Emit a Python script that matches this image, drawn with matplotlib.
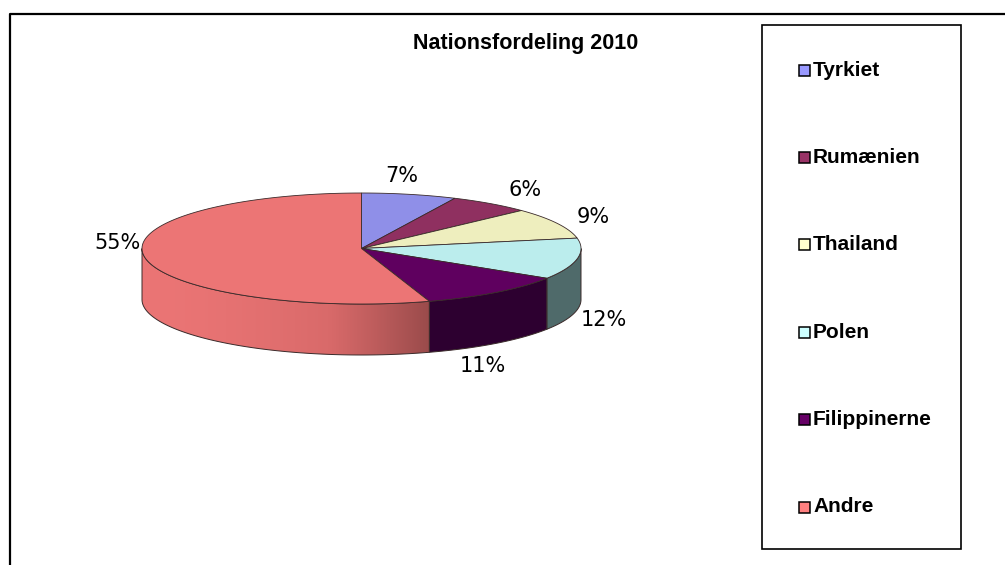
import numpy as np
import matplotlib
matplotlib.use('Agg')
import matplotlib.pyplot as plt
from matplotlib.patches import Polygon, Rectangle
from matplotlib.lines import Line2D
from matplotlib.colors import LinearSegmentedColormap

# ---------------- data ----------------
title = 'Nationsfordeling 2010'
categories = ['Tyrkiet', 'Rumænien', 'Thailand', 'Polen', 'Filippinerne', 'Andre']
shares = [7, 6, 9, 12, 11, 55]
legend_colors = ['#9999FF', '#993366', '#FFFFCC', '#CCFFFF', '#660066', '#FF8080']
top_colors = ['#8f8fe8', '#8f3060', '#eeeebe', '#bbeded', '#5f005f', '#ec7575']
side_colors = ['#6a6aad', '#6a2347', '#b0b08c', '#4f6a6a', '#2d0030', '#e87272']

# ---------------- layout ----------------
W, H = 1005, 565
fig = plt.figure(figsize=(W / 100, H / 100), dpi=100)
ax = fig.add_axes([0, 0, 1, 1])

cx, cy, rx, ry, depth = 361.5, 248.5, 219.5, 55.5, 51
edge = '#3a2a2a'
label_nudge = [(-15, -2), (15, 0), (7, 1), (-6, 58), (-33, 60), (5, -17)]


def ell(theta_deg, dy=0.0):
    t = np.radians(theta_deg)
    return cx + rx * np.sin(t), cy - ry * np.cos(t) + dy


vals = np.array(shares, dtype=float)
bounds = np.concatenate([[0], np.cumsum(vals) / vals.sum() * 360])

# side walls (front half only)
for i in range(len(vals)):
    a0, a1 = max(bounds[i], 90), min(bounds[i + 1], 270)
    if a1 <= a0:
        continue
    th = np.linspace(a0, a1, 200)
    xt, yt = ell(th)
    xb, yb = ell(th[::-1], depth)
    pts = np.column_stack([np.r_[xt, xb], np.r_[yt, yb]])
    if i == len(vals) - 1:
        poly = Polygon(pts, closed=True, fc='none', ec=edge, lw=0.7, zorder=3)
        ax.add_patch(poly)
        x0, x1 = pts[:, 0].min(), pts[:, 0].max()
        y0, y1 = pts[:, 1].min(), pts[:, 1].max()
        grad = np.linspace(0, 1, 256) ** 1.6
        cmap = LinearSegmentedColormap.from_list('g', ['#eb7575', '#d96a6a', '#9a4b4b'])
        im = ax.imshow(grad[None, :], extent=[x0, x1, y1, y0], cmap=cmap,
                       aspect='auto', zorder=2, interpolation='bilinear')
        im.set_clip_path(poly)
    else:
        ax.add_patch(Polygon(pts, closed=True, fc=side_colors[i], ec=edge,
                             lw=0.7, zorder=2))

# top face wedges
for i in range(len(vals)):
    th = np.linspace(bounds[i], bounds[i + 1], 200)
    xt, yt = ell(th)
    pts = np.column_stack([np.r_[cx, xt], np.r_[cy, yt]])
    ax.add_patch(Polygon(pts, closed=True, fc=top_colors[i], ec=edge,
                         lw=0.6, zorder=4))

# percentage labels
for i in range(len(vals)):
    mid = (bounds[i] + bounds[i + 1]) / 2
    t = np.radians(mid)
    lx = cx + rx * 1.15 * np.sin(t) + label_nudge[i][0]
    ly = cy - ry * 1.3 * np.cos(t) + label_nudge[i][1]
    ax.text(lx, ly, f'{vals[i] / vals.sum() * 100:.0f}%', ha='center', va='center',
            fontsize=15, family='DejaVu Sans', color='black', zorder=5)

# title
ax.text(525.5, 44, title, ha='center', va='center', fontsize=15.5,
        fontweight='bold', family='Liberation Sans')

# outer frame
ax.add_line(Line2D([10, 10, W + 5], [H + 5, 14, 14], color='black', lw=1.6))

# legend box
ax.add_patch(Rectangle((762, 25), 199, 524, fc='white', ec='black', lw=1.2, zorder=1))
ys = np.linspace(70, 507, len(categories))
for name, col, y in zip(categories, legend_colors, ys):
    ax.add_patch(Rectangle((798.5, y - 5.5), 11, 11, fc=col, ec='black', lw=1.1, zorder=5))
    ax.text(813, y, name, ha='left', va='center', fontsize=15,
            fontweight='bold', family='Liberation Sans', zorder=5)

ax.set_xlim(0, W)
ax.set_ylim(H, 0)
ax.axis('off')
fig.savefig('out.png', dpi=100)
